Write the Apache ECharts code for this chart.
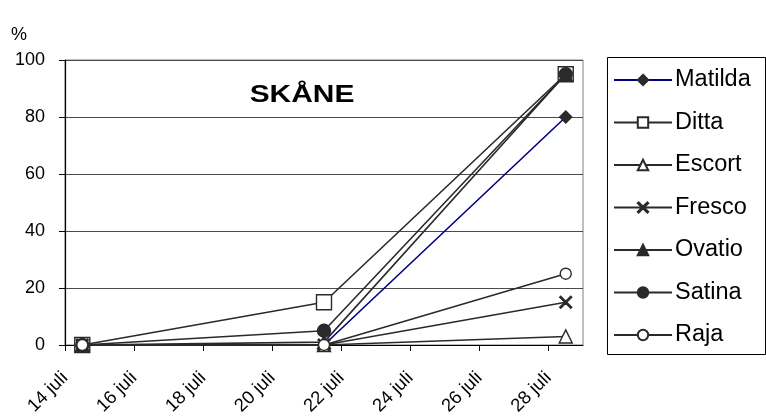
<!DOCTYPE html>
<html>
<head>
<meta charset="utf-8">
<style>
  html, body { margin: 0; padding: 0; background: #fff; }
  #chart { width: 766px; height: 418px; }
</style>
<script src="https://cdn.jsdelivr.net/npm/echarts@6/dist/echarts.min.js"></script>
</head>
<body>
<div id="chart"></div>
<script>
// Observation days (day of July); points sit mid-day on the date axis
const days = [14.5, 21.5, 28.5];
const tickDays = [14, 16, 18, 20, 22, 24, 26, 28];
const yTicks = [0, 20, 40, 60, 80, 100];

// Percentage per variety at each observation
const matilda = [0, 0, 80];
const ditta   = [0, 15, 95];
const escort  = [0, 0, 3];
const fresco  = [0, 0, 15];
const ovatio  = [0, 1, 95];
const satina  = [0, 5, 95];
const raja    = [0, 0, 25];

const FONT = '"Liberation Sans", Arial, sans-serif';
const INK = '#2a2a2a';
// thin "x" marker as a filled outline
const CROSS = 'path://M0,0.8 L0.8,0 L5,4.2 L9.2,0 L10,0.8 L5.8,5 L10,9.2 L9.2,10 L5,5.8 L0.8,10 L0,9.2 L4.2,5 Z';

function pts(vals) { return days.map((d, i) => [d, vals[i]]); }

function series(name, vals, symbol, size, fill, lineColor) {
  return {
    name: name,
    type: 'line',
    data: pts(vals),
    symbol: symbol,
    symbolSize: size,
    lineStyle: { color: lineColor || INK, width: 1.6 },
    itemStyle: { color: fill, borderColor: INK, borderWidth: 1.4 },
    emphasis: { disabled: true },
    z: 3
  };
}

const chart = echarts.init(document.getElementById('chart'), null, { renderer: 'canvas' });

chart.setOption({
  animation: false,
  backgroundColor: '#ffffff',
  textStyle: { fontFamily: FONT },
  grid: {
    left: 65, top: 60, right: 183, bottom: 72,
    show: true, borderColor: '#808080', borderWidth: 1
  },
  graphic: [
    {
      type: 'rect', left: 605, top: 55,
      shape: { width: 158, height: 297 },
      style: { fill: 'none', stroke: '#000', lineWidth: 1 }
    },
    {
      type: 'text', left: 11, top: 26,
      style: { text: '%', font: '18px ' + FONT, fill: '#000' }
    },
    {
      type: 'text', x: 302, y: 96, scaleX: 1.3,
      style: {
        text: 'SKÅNE', font: 'bold 23px ' + FONT, fill: '#000',
        textAlign: 'center', textVerticalAlign: 'middle'
      }
    }
  ],
  legend: {
    orient: 'vertical',
    left: 608, top: 63,
    itemWidth: 58, itemHeight: 13, itemGap: 18.5,
    textStyle: { fontSize: 23.5, color: '#000', fontFamily: FONT, lineHeight: 24, padding: [0, 0, 0, -2] },
    data: ['Matilda', 'Ditta', 'Escort', 'Fresco', 'Ovatio', 'Satina', 'Raja']
  },
  xAxis: {
    type: 'value',
    min: 14, max: 29,
    interval: 2,
    splitLine: { show: false },
    axisLine: { onZero: false, lineStyle: { color: '#000', width: 1.2 } },
    axisTick: { customValues: tickDays, length: 6, lineStyle: { color: '#000' } },
    axisLabel: {
      customValues: tickDays,
      rotate: 45, margin: 30, verticalAlign: 'middle',
      fontSize: 18.5, color: '#000', fontFamily: FONT,
      formatter: v => v + ' juli'
    }
  },
  yAxis: {
    type: 'value',
    min: 0, max: 100, interval: 20,
    axisLine: { show: true, lineStyle: { color: '#000', width: 1.2 } },
    axisTick: { show: true, length: 6, lineStyle: { color: '#000' } },
    axisLabel: { fontSize: 18, color: '#000', margin: 20, fontFamily: FONT,
      customValues: yTicks },
    splitLine: { show: true, lineStyle: { color: '#4a4a4a', width: 1 } }
  },
  series: [
    series('Matilda', matilda, 'diamond', 12, INK, '#000080'),
    series('Ditta', ditta, 'rect', 15, '#ffffff'),
    series('Escort', escort, 'triangle', 13, '#ffffff'),
    series('Fresco', fresco, CROSS, 12, INK),
    series('Ovatio', ovatio, 'triangle', 13, INK),
    series('Satina', satina, 'circle', 13, INK),
    series('Raja', raja, 'circle', 11, '#ffffff')
  ]
});
</script>
</body>
</html>
